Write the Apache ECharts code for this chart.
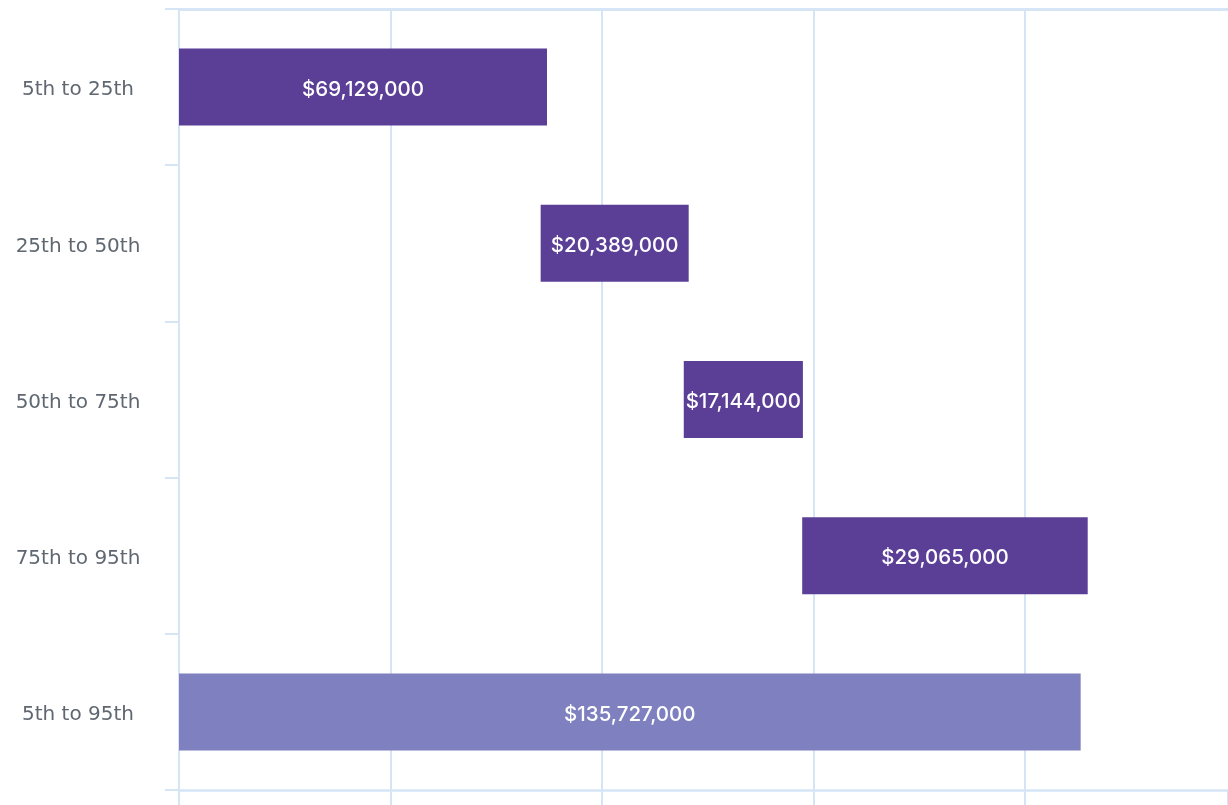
<!DOCTYPE html>
<html>
<head>
<meta charset="utf-8">
<script src="https://cdn.jsdelivr.net/npm/echarts@6/dist/echarts.min.js"></script>
<style>
  html, body { margin: 0; padding: 0; background: #fff; }
  #chart { width: 1228px; height: 805px; }
</style>
</head>
<body>
<div id="chart"></div>
<script>
  // categories, top to bottom
  var categories = ['5th to 25th', '25th to 50th', '50th to 75th', '75th to 95th', '5th to 95th'];
  // bar extents (axis units, 30 per gridline)
  var barStart = [0, 51.3, 71.6, 88.4, 0];
  var barEnd = [52.2, 72.3, 88.5, 128.9, 127.9];
  // value shown on each bar
  var barLabels = ['$69,129,000', '$20,389,000', '$17,144,000', '$29,065,000', '$135,727,000'];
  var barColors = ['#5b3f97', '#5b3f97', '#5b3f97', '#5b3f97', '#7f80bf'];

  var lineColor = '#d5e5f6';

  var baseData = barStart.slice();
  var lenData = barEnd.map(function (e, i) {
    return {
      value: +(e - barStart[i]).toFixed(2),
      itemStyle: { color: barColors[i] }
    };
  });

  var myChart = echarts.init(document.getElementById('chart'));
  myChart.setOption({
    animation: false,
    grid: { left: 179, top: 9, right: 0, height: 781 },
    xAxis: [{
      type: 'value',
      min: 0,
      max: 148.8,
      interval: 30,
      position: 'bottom',
      axisLine: { show: true, lineStyle: { color: lineColor, width: 2.5 } },
      axisTick: { show: true, length: 15, lineStyle: { color: lineColor, width: 2 } },
      axisLabel: { show: false },
      splitLine: { show: true, showMaxLine: false, lineStyle: { color: lineColor, width: 2 } }
    }, {
      type: 'value',
      min: 0,
      max: 148.8,
      position: 'top',
      axisLine: { show: true, lineStyle: { color: lineColor, width: 3 } },
      axisTick: { show: false },
      axisLabel: { show: false },
      splitLine: { show: false }
    }],
    yAxis: {
      type: 'category',
      inverse: true,
      data: categories,
      axisLine: { show: true, lineStyle: { color: lineColor, width: 2 } },
      axisTick: { show: true, length: 14, lineStyle: { color: lineColor, width: 2 } },
      axisLabel: {
        align: 'center',
        margin: 101,
        formatter: function (v) { return '{c|' + v + '}'; },
        rich: {
          c: {
            padding: [6, 0, 0, 0],
            color: '#5f6771',
            fontFamily: 'DejaVu Sans',
            fontSize: 20
          }
        }
      }
    },
    series: [{
      name: 'base',
      type: 'bar',
      stack: 'range',
      silent: true,
      itemStyle: { color: 'transparent' },
      barWidth: 77,
      data: baseData
    }, {
      name: 'range',
      type: 'bar',
      stack: 'range',
      barWidth: 77,
      data: lenData,
      label: {
        show: true,
        position: 'inside',
        offset: [0, 2.5],
        color: '#ffffff',
        fontFamily: 'Inter',
        fontSize: 20.5,
        fontWeight: 500,
        formatter: function (p) { return barLabels[p.dataIndex]; }
      }
    }]
  });
</script>
</body>
</html>
